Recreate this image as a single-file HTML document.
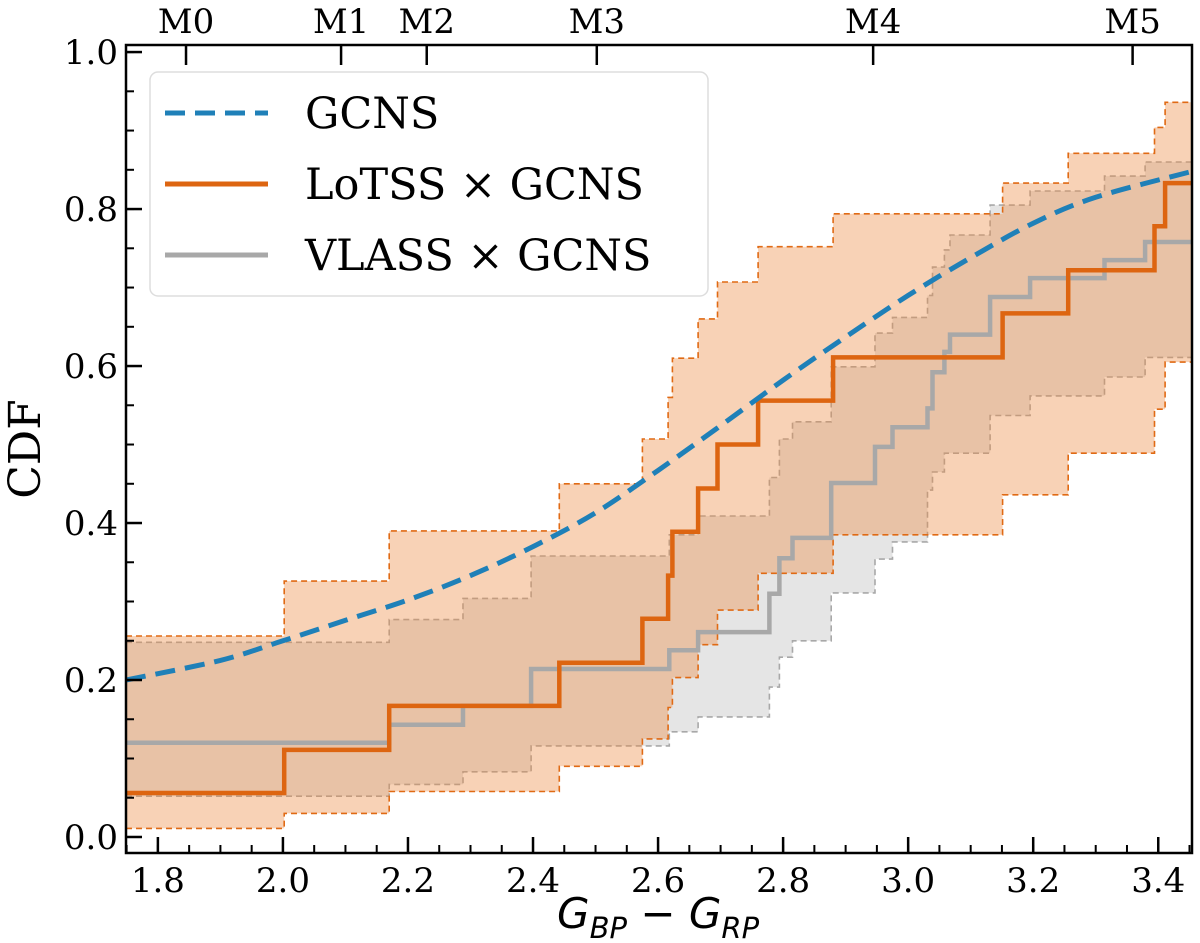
<!DOCTYPE html>
<html><head><meta charset="utf-8"><style>
html,body{margin:0;padding:0;background:#fff;}
svg{display:block;font-family:"DejaVu Serif","Liberation Serif",serif;}
</style></head><body>
<svg id="chart" width="1200" height="943" viewBox="0 0 1200 943" xmlns="http://www.w3.org/2000/svg"></svg>
<script>
const xTicks=[1.8,2.0,2.2,2.4,2.6,2.8,3.0,3.2,3.4];
const yTicks=[0.0,0.2,0.4,0.6,0.8,1.0];
const spLabels=["M0","M1","M2","M3","M4","M5"];
const spPos=[1.845,2.093,2.23,2.502,2.944,3.359];
const gcnsX=[1.749,1.9,2.0,2.1,2.2,2.3,2.4,2.5,2.6,2.7,2.8,2.9,3.0,3.1,3.2,3.3,3.454];
const gcnsY=[0.2,0.225,0.25,0.276,0.302,0.333,0.37,0.413,0.467,0.524,0.582,0.637,0.69,0.738,0.782,0.815,0.848];
const lotssBreaks=[2.002,2.170,2.442,2.575,2.616,2.623,2.664,2.695,2.760,2.880,3.151,3.256,3.394,3.411];
const lotssMed=[0.056,0.111,0.167,0.222,0.278,0.333,0.389,0.444,0.500,0.556,0.611,0.667,0.722,0.778,0.833];
const lotssUp=[0.256,0.326,0.39,0.45,0.507,0.56,0.61,0.66,0.707,0.752,0.794,0.833,0.871,0.904,0.936];
const lotssLo=[0.011,0.03,0.058,0.09,0.125,0.165,0.203,0.245,0.289,0.336,0.385,0.436,0.489,0.545,0.605];
const vlassBreaks=[2.170,2.288,2.397,2.618,2.664,2.778,2.794,2.815,2.877,2.947,2.975,3.031,3.039,3.058,3.067,3.131,3.195,3.314,3.379];
const vlassMed=[0.12,0.143,0.167,0.214,0.238,0.261,0.31,0.355,0.381,0.451,0.497,0.522,0.546,0.592,0.618,0.64,0.688,0.712,0.735,0.758];
const vlassUp=[0.248,0.277,0.304,0.358,0.385,0.409,0.458,0.507,0.529,0.599,0.642,0.662,0.69,0.726,0.748,0.767,0.805,0.823,0.842,0.86];
const vlassLo=[0.052,0.067,0.083,0.116,0.134,0.153,0.191,0.229,0.25,0.311,0.354,0.376,0.442,0.465,0.489,0.489,0.537,0.562,0.586,0.611];

const L=126,R=1192,T=45,B=853,X0=1.749,X1=3.454,Y0=-0.0204,Y1=1.009;
const sx=v=>L+(v-X0)/(X1-X0)*(R-L);
const sy=v=>B-(v-Y0)/(Y1-Y0)*(B-T);
const NS="http://www.w3.org/2000/svg";
const svg=document.getElementById('chart');
function mk(tag,attrs,parent){const e=document.createElementNS(NS,tag);for(const k in attrs)e.setAttribute(k,attrs[k]);(parent||svg).appendChild(e);return e;}
function stepPts(br,vals){const p=[];let x=X0;for(let i=0;i<vals.length;i++){const xe=i<br.length?br[i]:X1;p.push([sx(x),sy(vals[i])]);p.push([sx(xe),sy(vals[i])]);x=xe;}return p;}
function ptsStr(p){return p.map(q=>q[0].toFixed(1)+','+q[1].toFixed(1)).join(' ');}

mk('defs',{}).innerHTML='<clipPath id="clip"><rect x="126" y="45" width="1066" height="808"/></clipPath>';
const plot=mk('g',{'clip-path':'url(#clip)'});



function band(br,up,lo,fill,op,stroke,name){
  const pu=stepPts(br,up),pl=stepPts(br,lo).reverse();
  const f=mk('polygon',{points:ptsStr(pu.concat(pl)),fill:fill,'fill-opacity':op,stroke:'none'},plot);
  
  
  const u=mk('polyline',{points:ptsStr(pu),fill:'none',stroke:stroke,'stroke-width':1.6,'stroke-dasharray':'6,4'},plot);
  
  
  const l=mk('polyline',{points:ptsStr(stepPts(br,lo)),fill:'none',stroke:stroke,'stroke-width':1.6,'stroke-dasharray':'6,4'},plot);
  
  
}
band(vlassBreaks,vlassUp,vlassLo,'#a0a0a0',0.28,'#a8a8a8','vlass');
band(lotssBreaks,lotssUp,lotssLo,'#ec8a3e',0.38,'#e06a14','lotss');

const vm=mk('polyline',{points:ptsStr(stepPts(vlassBreaks,vlassMed)),fill:'none',stroke:'#a8a8a8','stroke-width':4.5},plot);


const lm=mk('polyline',{points:ptsStr(stepPts(lotssBreaks,lotssMed)),fill:'none',stroke:'#dd6511','stroke-width':4.5},plot);


const gp=gcnsX.map((x,i)=>[sx(x),sy(gcnsY[i])]);
let d='M'+gp[0][0].toFixed(1)+','+gp[0][1].toFixed(1);
for(let i=0;i<gp.length-1;i++){
  const p0=gp[Math.max(0,i-1)],p1=gp[i],p2=gp[i+1],p3=gp[Math.min(gp.length-1,i+2)];
  const c1=[p1[0]+(p2[0]-p0[0])/6,p1[1]+(p2[1]-p0[1])/6],c2=[p2[0]-(p3[0]-p1[0])/6,p2[1]-(p3[1]-p1[1])/6];
  d+='C'+c1[0].toFixed(1)+','+c1[1].toFixed(1)+' '+c2[0].toFixed(1)+','+c2[1].toFixed(1)+' '+p2[0].toFixed(1)+','+p2[1].toFixed(1);
}
const gl=mk('path',{d:d,fill:'none',stroke:'#1f80b8','stroke-width':5,'stroke-dasharray':'20,10'},plot);



const fr=mk('rect',{x:L,y:T,width:R-L,height:B-T,fill:'none',stroke:'#000','stroke-width':2.5});


for(let v=1.75;v<=3.45;v+=0.05){const X=sx(v);const t=mk('line',{x1:X,x2:X,y1:B,y2:B-8,stroke:'#000','stroke-width':2});}
xTicks.forEach(v=>{const X=sx(v);
  const t=mk('line',{x1:X,x2:X,y1:B,y2:B-16,stroke:'#000','stroke-width':2.5});
  const l=mk('text',{x:X,y:B+39,'text-anchor':'middle','font-size':34});l.textContent=v.toFixed(1);});
for(let v=0;v<=1.0001;v+=0.05){const Y=sy(v);const t=mk('line',{x1:L,x2:L+8,y1:Y,y2:Y,stroke:'#000','stroke-width':2});}
yTicks.forEach(v=>{const Y=sy(v);
  const t=mk('line',{x1:L,x2:L+16,y1:Y,y2:Y,stroke:'#000','stroke-width':2.5});
  const l=mk('text',{x:L-8,y:Y+12,'text-anchor':'end','font-size':34});l.textContent=v.toFixed(1);});
spPos.forEach((v,i)=>{const X=sx(v);
  const t=mk('line',{x1:X,x2:X,y1:T,y2:T+20,stroke:'#000','stroke-width':2.5});
  const l=mk('text',{x:X,y:T-12,'text-anchor':'middle','font-size':34});l.textContent=spLabels[i];});
const yl=mk('text',{x:40,y:(T+B)/2,'text-anchor':'middle','font-size':44,transform:'rotate(-90 40 '+((T+B)/2)+')'});yl.textContent='CDF';

const xl=mk('text',{x:sx(2.6),y:928,'text-anchor':'middle','font-size':42,'font-style':'italic','font-family':'"DejaVu Sans",sans-serif'});
xl.innerHTML='G<tspan font-size="29" dy="10">BP</tspan><tspan dy="-10" font-style="normal"> − </tspan>G<tspan font-size="29" dy="10">RP</tspan>';


const lg=mk('g',{});

mk('rect',{x:150,y:72,width:558,height:224,rx:8,fill:'#fff','fill-opacity':0.85,stroke:'#ddd','stroke-width':1.5},lg);
const ent=[['GCNS','#1f80b8','20,10',5],['LoTSS × GCNS','#dd6511','',5],['VLASS × GCNS','#a8a8a8','',5]];
ent.forEach((e,i)=>{const Y=113+i*71;
  const a={x1:165,x2:268,y1:Y,y2:Y,stroke:e[1],'stroke-width':e[3]};if(e[2])a['stroke-dasharray']=e[2];
  const ln=mk('line',a,lg);
  const t=mk('text',{x:305,y:Y+15,'font-size':43},lg);t.textContent=e[0];});
</script>
</body></html>
